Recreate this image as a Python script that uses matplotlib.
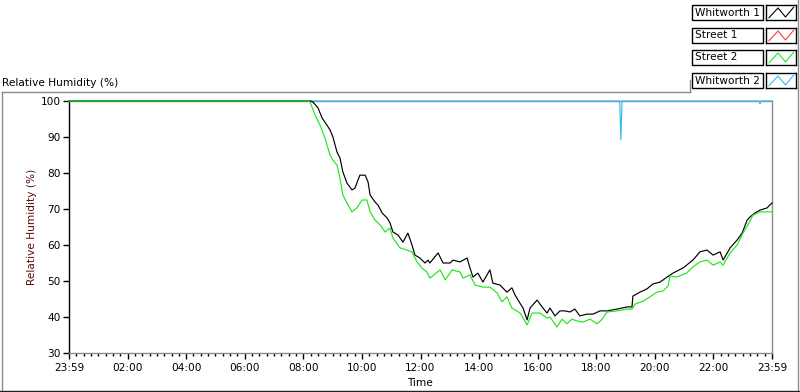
import numpy as np
import matplotlib
matplotlib.use("Agg")
import matplotlib.pyplot as plt
from matplotlib.lines import Line2D
from matplotlib.patches import Rectangle

plt.rcParams["font.family"] = "DejaVu Sans"
plt.rcParams["font.size"] = 7.6

series_names = ["Whitworth 1", "Street 1", "Street 2", "Whitworth 2"]
series_colors = ["#000000", "#ff3b3b", "#1ee61e", "#35b9f2"]

# hours since 23:59 of the previous day
w1_hours = [0, 8.23, 8.33, 8.50, 8.64, 8.91, 9.01, 9.15, 9.25, 9.35, 9.49, 9.66, 9.76,
            9.93, 10.11, 10.21, 10.28, 10.45, 10.55, 10.69, 10.86, 10.96, 11.06, 11.23,
            11.40, 11.57, 11.71, 11.81, 11.98, 12.15, 12.26, 12.32, 12.60, 12.77, 13.01,
            13.11, 13.35, 13.59, 13.69, 13.79, 13.96, 14.13, 14.37, 14.47, 14.71, 14.95,
            15.12, 15.23, 15.33, 15.50, 15.64, 15.74, 15.98, 16.15, 16.32, 16.42, 16.59,
            16.76, 16.93, 17.10, 17.27, 17.44, 17.68, 17.89, 18.13, 18.37, 18.71, 19.05,
            19.22, 19.25, 19.49, 19.73, 19.94, 20.18, 20.42, 20.62, 20.96, 21.30, 21.54,
            21.78, 21.99, 22.23, 22.33, 22.57, 22.81, 22.98, 23.15, 23.25, 23.42, 23.59,
            23.83, 24.0]
w1_rh = [100, 100, 99.7, 98.1, 95.3, 92.0, 90.0, 85.8, 84.2, 80.3, 77.2, 75.3, 75.8,
         79.4, 79.4, 77.5, 73.9, 71.9, 71.1, 68.9, 67.5, 66.1, 63.6, 62.8,
         60.8, 63.3, 60.0, 57.2, 56.4, 55.0, 55.8, 55.0, 57.8, 55.0, 55.0,
         55.8, 55.3, 56.4, 53.6, 51.1, 52.2, 49.7, 53.1, 49.4, 48.9, 46.9,
         48.1, 46.1, 44.7, 42.5, 39.2, 42.5, 44.7, 42.8, 41.1, 42.5, 40.3,
         41.7, 41.7, 41.4, 42.2, 40.3, 40.8, 40.8, 41.7, 41.7, 42.2, 42.8,
         42.8, 45.8, 46.9, 47.8, 49.2, 49.7, 51.1, 52.2, 53.6, 55.8, 58.1,
         58.6, 57.2, 58.1, 55.8, 59.2, 61.4, 63.3, 66.9, 67.8, 68.9, 69.7,
         70.3, 71.7]

s1_hours = []
s1_rh = []

s2_hours = [0, 8.16, 8.23, 8.40, 8.57, 8.74, 8.91, 9.01, 9.15, 9.25, 9.35, 9.49, 9.66,
            9.83, 10.00, 10.17, 10.28, 10.45, 10.62, 10.79, 10.96, 11.06, 11.30, 11.54,
            11.71, 11.88, 12.05, 12.22, 12.32, 12.67, 12.84, 13.08, 13.35, 13.45, 13.69,
            13.86, 14.13, 14.37, 14.61, 14.78, 14.95, 15.12, 15.40, 15.64, 15.81, 16.08,
            16.32, 16.42, 16.66, 16.83, 17.00, 17.17, 17.34, 17.55, 17.79, 18.03, 18.20,
            18.37, 18.71, 19.05, 19.22, 19.32, 19.60, 19.83, 20.07, 20.28, 20.45, 20.52,
            20.75, 21.09, 21.30, 21.54, 21.78, 21.99, 22.23, 22.33, 22.57, 22.81, 23.01,
            23.18, 23.35, 23.59, 23.83, 24.0]
s2_rh = [100, 100, 99.7, 96.1, 93.3, 89.7, 85.0, 83.6, 82.2, 78.6, 73.9, 71.7, 69.2,
         70.3, 72.5, 72.5, 69.2, 66.9, 65.6, 63.6, 64.7, 61.9, 59.2, 58.6,
         58.1, 55.3, 53.6, 52.5, 50.8, 53.1, 50.3, 53.1, 52.5, 50.8, 51.7,
         48.9, 48.3, 48.3, 46.7, 44.2, 45.6, 42.5, 41.1, 37.8, 41.1, 41.1,
         39.7, 40.0, 37.2, 39.4, 38.1, 39.4, 38.9, 38.6, 39.4, 38.1, 39.4,
         41.4, 41.7, 42.2, 42.2, 43.6, 44.4, 45.6, 46.9, 47.2, 48.6, 51.4,
         51.1, 52.2, 53.9, 55.3, 55.8, 54.4, 55.3, 54.4, 57.8, 60.0, 63.3,
         65.6, 68.3, 69.2, 69.2, 69.2]

w2_hours = [0, 18.80, 18.84, 18.88, 23.55, 23.59, 23.63, 24.0]
w2_rh = [100, 100, 89.2, 100, 100, 99.2, 100, 100]

tick_hours = [0, 2, 4, 6, 8, 10, 12, 14, 16, 18, 20, 22, 24]
tick_labels = ["23:59", "02:00", "04:00", "06:00", "08:00", "10:00", "12:00",
               "14:00", "16:00", "18:00", "20:00", "22:00", "23:59"]
rh_ticks = [30, 40, 50, 60, 70, 80, 90, 100]

W, H = 800, 392
fig = plt.figure(figsize=(8, 3.92), dpi=100)
ax = fig.add_axes([69 / W, 1 - 353 / H, 703 / W, 252 / H])

ax.plot(w2_hours, w2_rh, color=series_colors[3], lw=0.85, zorder=3)
ax.plot(w1_hours, w1_rh, color=series_colors[0], lw=0.85, zorder=4)
ax.plot(s1_hours, s1_rh, color=series_colors[1], lw=0.85, zorder=4)
ax.plot(s2_hours, s2_rh, color=series_colors[2], lw=0.85, zorder=5)

ax.set_xlim(0, 24)
ax.set_ylim(30, 100)
ax.set_xticks(tick_hours)
ax.set_xticklabels(tick_labels)
ax.set_xticks(np.arange(0, 24.01, 0.25), minor=True)
ax.set_yticks(rh_ticks)
ax.tick_params(axis="x", which="major", direction="out", length=4, width=1, pad=3)
ax.tick_params(axis="x", which="minor", direction="out", length=2.2, width=1)
ax.tick_params(axis="y", direction="out", length=4, width=1, pad=2)
for l in ax.get_lines():
    l.set_clip_on(False)

ax.spines["left"].set_color("black")
for s in ["bottom", "right", "top"]:
    ax.spines[s].set_color("#8c8c8c")
for s in ax.spines.values():
    s.set_linewidth(1)

fig.text(32 / W, 1 - 227 / H, "Relative Humidity (%)", rotation=90,
         ha="center", va="center", color="#5a0a0a")
fig.text(420 / W, 1 - 383 / H, "Time", ha="center", va="center")
fig.text(2 / W, 1 - 83 / H, "Relative Humidity (%)", ha="left", va="center")

# outer frame
def fig_line(xs, ys, color):
    fig.add_artist(Line2D([x / W for x in xs], [1 - y / H for y in ys],
                          color=color, lw=1, transform=fig.transFigure))

fig_line([1.5, 690], [92, 92], "#8c8c8c")
fig_line([690, 690], [80, 92], "#8c8c8c")
fig_line([1.5, 1.5], [92, 390], "#8c8c8c")
fig_line([798, 798], [0, 390], "#8c8c8c")
fig_line([0, 800], [390.5, 390.5], "#202020")

# legend
row_tops = [5, 28, 50, 73]
for name, color, top in zip(series_names, series_colors, row_tops):
    fig.add_artist(Rectangle((692 / W, 1 - (top + 15) / H), 71 / W, 15 / H,
                             transform=fig.transFigure, facecolor="white",
                             edgecolor="black", lw=1))
    fig.text(695 / W, 1 - (top + 7.5) / H, name, ha="left", va="center")
    sw = fig.add_axes([766 / W, 1 - (top + 15) / H, 30 / W, 15 / H])
    sw.plot([0.1, 0.4, 0.65, 0.92], [0.15, 0.8, 0.2, 0.85], color=color, lw=0.8)
    sw.set_xlim(0, 1)
    sw.set_ylim(0, 1)
    sw.set_xticks([])
    sw.set_yticks([])
    for s in sw.spines.values():
        s.set_linewidth(1)

fig.savefig("out.png", dpi=100)
